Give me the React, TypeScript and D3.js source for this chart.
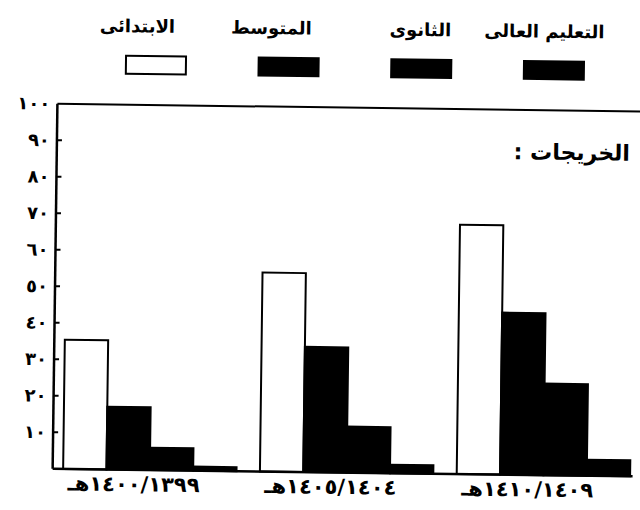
import React from "react";
import * as d3 from "d3";

const groups = ["١٣٩٩/\u200F١٤٠٠هـ", "١٤٠٤/\u200F١٤٠٥هـ", "١٤٠٩/\u200F١٤١٠هـ"];
const seriesNames = ["الابتدائى", "المتوسط", "الثانوى", "التعليم العالى"];
const primary = [35.4, 54.5, 68.3];
const intermediate = [17.2, 34.3, 44.4];
const secondary = [6.1, 12.6, 25.1];
const higher = [1.1, 2.3, 4.4];
const yTicks = [10, 20, 30, 40, 50, 60, 70, 80, 90, 100];
const yTickLabels = ["١٠", "٢٠", "٣٠", "٤٠", "٥٠", "٦٠", "٧٠", "٨٠", "٩٠", "١٠٠"];
const title = "الخريجات :";

const series = [primary, intermediate, secondary, higher];
const fills = ["#fff", "#000", "#000", "#000"];

export default function App() {
  const W = 640, H = 510;
  const axisX = 55;
  const y = d3.scaleLinear().domain([0, 100]).range([472.5, 107.5]);
  const x0 = d3.scaleBand<number>().domain(d3.range(groups.length)).range([65.5, 632.5]).paddingInner(0.119).paddingOuter(0);
  const x1 = d3.scaleBand<number>().domain(d3.range(series.length)).range([0, x0.bandwidth()]).padding(0);
  const legendX = d3.scalePoint<number>().domain(d3.range(4)).range([153, 551]);
  const labelX = [134, 268, 417, 541];
  const font = "'DejaVu Sans', sans-serif";

  return (
    <svg width={W} height={H} style={{ position: "absolute", left: 0, top: 0, background: "#fff" }} fontFamily={font}>
      <rect x={0} y={0} width={W} height={H} fill="#fff" />
      <g transform="rotate(0.75, 340, 290)">
        {/* legend */}
        {seriesNames.map((n, i) => (
          <g key={n}>
            <text x={labelX[i]} y={35} textAnchor="middle" direction="rtl" fontSize={18} fontWeight="bold" fill="#000">{n}</text>
            <rect x={legendX(i)! - 30} y={58.5} width={60} height={18} fill={fills[i]} stroke="#000" strokeWidth={2} />
          </g>
        ))}
        {/* bars */}
        {groups.map((g, gi) => (
          <g key={g} transform={`translate(${x0(gi)},0)`}>
            {series.map((s, si) => (
              <rect key={si} x={x1(si)} y={y(s[gi])} width={x1.bandwidth()} height={y(0) - y(s[gi])}
                fill={fills[si]} stroke="#000" strokeWidth={2} />
            ))}
          </g>
        ))}
        {/* axes */}
        <line x1={axisX} x2={W + 5} y1={y(100)} y2={y(100)} stroke="#000" strokeWidth={2} />
        <line x1={axisX} x2={635} y1={y(0)} y2={y(0)} stroke="#000" strokeWidth={2.5} />
        <line x1={axisX} x2={axisX} y1={y(100)} y2={y(0)} stroke="#000" strokeWidth={2.5} />
        {yTicks.map((t, i) => (
          <g key={t}>
            {t < 100 && <line x1={axisX} x2={axisX + 5} y1={y(t)} y2={y(t)} stroke="#000" strokeWidth={2} />}
            <text x={48} y={y(t) + 6} textAnchor="end" fontSize={18} fontWeight="bold" fill="#000">{yTickLabels[i]}</text>
          </g>
        ))}
        {groups.map((g, gi) => (
          <text key={g} x={x0(gi)! + x0.bandwidth() / 2 - 16} y={494} textAnchor="middle" direction="rtl"
            fontSize={21} fontWeight="bold" fill="#000">{g}</text>
        ))}
        <text x={570} y={157} textAnchor="middle" direction="rtl" fontSize={22} fontWeight="bold" fill="#000">{title}</text>
      </g>
    </svg>
  );
}
